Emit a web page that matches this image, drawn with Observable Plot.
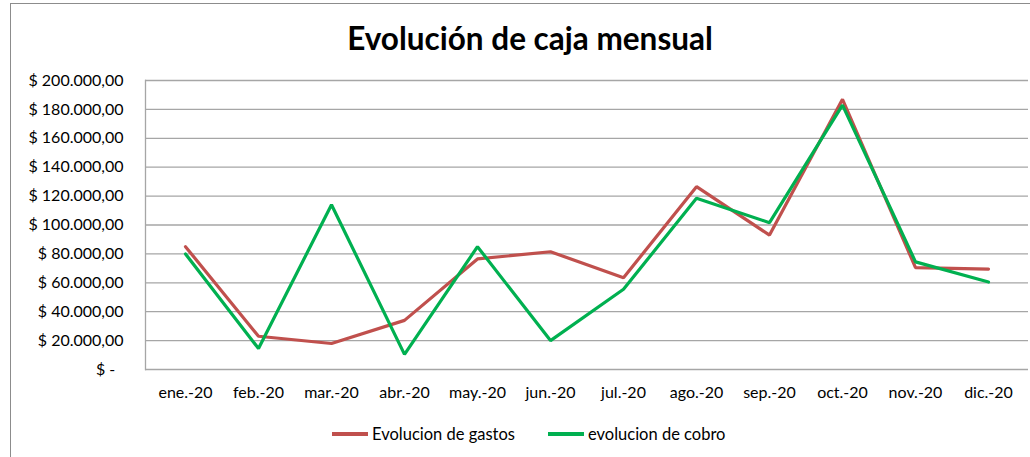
<!DOCTYPE html>
<html>
<head>
<meta charset="utf-8">
<script src="https://cdn.jsdelivr.net/npm/d3@7"></script>
<script src="https://cdn.jsdelivr.net/npm/@observablehq/plot@0.6"></script>
<style>
  body { margin: 0; background: #fff; font-family: Lato, "Open Sans", sans-serif; }
  #wrap { position: relative; width: 1030px; height: 457px; overflow: hidden; background: #fff; }
  #border { position: absolute; left: 10px; top: 3px; width: 1040px; height: 480px; border: 1px solid #8c8c8c; box-sizing: border-box; }
  #title { position: absolute; left: 0; top: 19px; width: 1060px; text-align: center; font-weight: bold; font-size: 31.5px; color: #000; }
  #chart { position: absolute; left: 0; top: 60px; }
  #legend { position: absolute; top: 424px; left: 0; width: 1030px; font-size: 16.5px; color: #000; }
  .item { position: absolute; display: flex; align-items: center; }
  .sw { width: 36px; height: 3.5px; margin-right: 4px; }
</style>
</head>
<body>
<div id="wrap">
  <div id="border"></div>
  <div id="title">Evolución de caja mensual</div>
  <div id="chart"></div>
  <div id="legend"></div>
</div>
<script>
const months = ["ene.-20","feb.-20","mar.-20","abr.-20","may.-20","jun.-20","jul.-20","ago.-20","sep.-20","oct.-20","nov.-20","dic.-20"];
const gastos = [85000, 23000, 18000, 34000, 76500, 81500, 63500, 126500, 93000, 187000, 70500, 69500];
const cobro  = [80000, 14500, 114000, 10500, 85000, 20000, 55500, 118500, 101600, 183000, 74500, 60500];
const yTicks = [0, 20000, 40000, 60000, 80000, 100000, 120000, 140000, 160000, 180000, 200000];
const seriesNames = ["Evolucion de gastos", "evolucion de cobro"];
const seriesColors = ["#C0504D", "#00B050"];

const fmt = v => v === 0 ? "$ -\u00a0\u00a0" : "$ " + d3.format(",.2f")(v).replace(/,/g, "#").replace(/\./g, ",").replace(/#/g, ".");

const data = [];
months.forEach((m, i) => {
  data.push({month: m, value: gastos[i], serie: seriesNames[0]});
  data.push({month: m, value: cobro[i], serie: seriesNames[1]});
});

const plot = Plot.plot({
  width: 1030,
  height: 349,
  marginTop: 20,
  marginBottom: 40,
  marginLeft: 145,
  marginRight: 2,
  style: {fontFamily: "Lato, 'Open Sans', sans-serif", fontSize: "16px", color: "#000", background: "transparent", overflow: "visible"},
  x: {type: "point", domain: months, padding: 0.5},
  y: {domain: [0, 200000]},
  marks: [
    Plot.ruleY(yTicks, {stroke: "#a6a6a6", strokeWidth: 1.3, strokeOpacity: 1}),
    Plot.frame({anchor: "left", stroke: "#a6a6a6", strokeWidth: 1.3}),
    Plot.axisY({ticks: yTicks, tickFormat: fmt, tickSize: 0, tickPadding: 22, label: null, fontSize: 16}),
    Plot.axisX({tickSize: 0, tickPadding: 17, label: null, fontSize: 16}),
    Plot.line(data.filter(d => d.serie === seriesNames[0]), {x: "month", y: "value", stroke: seriesColors[0], strokeWidth: 3.2, strokeLinejoin: "miter"}),
    Plot.line(data.filter(d => d.serie === seriesNames[1]), {x: "month", y: "value", stroke: seriesColors[1], strokeWidth: 3.2, strokeLinejoin: "miter"})
  ]
});
document.getElementById("chart").appendChild(plot);

const legend = document.getElementById("legend");
const lefts = [332, 548];
seriesNames.forEach((n, i) => {
  const it = document.createElement("div");
  it.className = "item";
  it.style.left = lefts[i] + "px";
  const sw = document.createElement("div");
  sw.className = "sw";
  sw.style.background = seriesColors[i];
  const t = document.createElement("span");
  t.textContent = n;
  it.appendChild(sw); it.appendChild(t);
  legend.appendChild(it);
});
</script>
</body>
</html>
